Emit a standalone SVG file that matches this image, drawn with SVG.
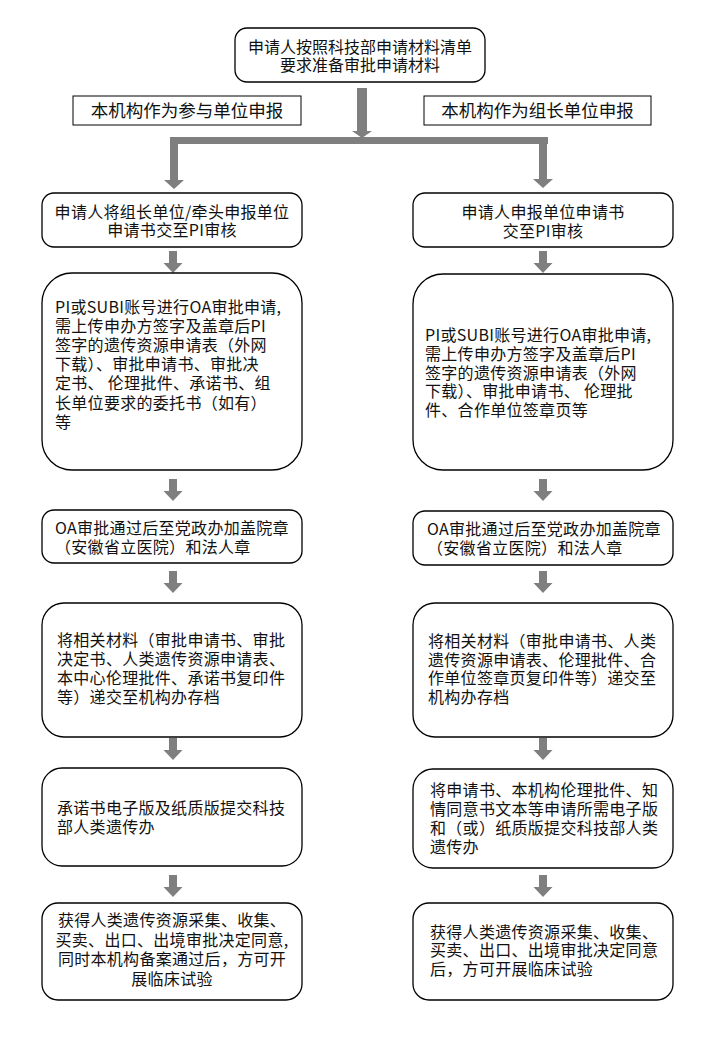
<svg xmlns="http://www.w3.org/2000/svg" width="720" height="1039" viewBox="0 0 720 1039">
<style>
.box{fill:#fff;stroke:#000;stroke-width:1.3}
.lbl{fill:#fff;stroke:#000;stroke-width:1}
text{font-family:"Microsoft YaHei","Noto Sans CJK SC","Noto Sans",sans-serif;font-size:16px;fill:#111;letter-spacing:0.3px}
.c{text-anchor:middle}
.big{font-size:17.5px;letter-spacing:0}
.top{letter-spacing:0}
.arr{fill:#7f7f7f}
</style>
<defs>
<path id="a" d="M-4,0 H4 V12 H9.5 L0,22 L-9.5,12 H-4 Z"/>
</defs>
<rect width="720" height="1039" fill="#fff"/>
<g id="connectors" class="arr">
<path d="M357,88 H367 V131 H372 L362,138 L352,131 H357 Z"/>
<rect x="170" y="137" width="378" height="7"/>
<path d="M170,137 H178 V180 H184 L174,189 L164,180 H170 Z"/>
<path d="M539,137 H547 V179 H553 L543,188 L533,179 H539 Z"/>
<use href="#a" x="173" y="251"/>
<use href="#a" x="173" y="479"/>
<use href="#a" x="173" y="571"/>
<use href="#a" x="173" y="738"/>
<use href="#a" x="173" y="875"/>
<use href="#a" x="543" y="251"/>
<use href="#a" x="543" y="479"/>
<use href="#a" x="543" y="571"/>
<use href="#a" x="543" y="738"/>
<use href="#a" x="543" y="875"/>
</g>
<g id="start">
<rect class="box" x="235" y="28" width="250" height="54" rx="12"/>
<text class="c top" x="360" y="52.5">申请人按照科技部申请材料清单<tspan x="360" dy="18.5">要求准备审批申请材料</tspan></text>
</g>
<g id="label-left">
<rect class="lbl" x="73" y="96" width="228" height="29"/>
<text class="c big" x="187" y="117">本机构作为参与单位申报</text>
</g>
<g id="label-right">
<rect class="lbl" x="424" y="96" width="227" height="29"/>
<text class="c big" x="537.5" y="117">本机构作为组长单位申报</text>
</g>
<g id="L1">
<rect class="box" x="42" y="193" width="260" height="54" rx="12"/>
<text class="c" x="172" y="217.5">申请人将组长单位/牵头申报单位<tspan x="172" dy="18.5">申请书交至PI审核</tspan></text>
</g>
<g id="L2">
<rect class="box" x="42" y="273" width="260" height="197" rx="30"/>
<text x="55" y="312.5">PI或SUBI账号进行OA审批申请,<tspan x="55" dy="19.2">需上传申办方签字及盖章后PI</tspan><tspan x="55" dy="19.2">签字的遗传资源申请表（外网</tspan><tspan x="55" dy="19.2">下载）、审批申请书、审批决</tspan><tspan x="55" dy="19.2">定书、 伦理批件、承诺书、组</tspan><tspan x="55" dy="19.2">长单位要求的委托书（如有）</tspan><tspan x="55" dy="19.2">等</tspan></text>
</g>
<g id="L3">
<rect class="box" x="42" y="510" width="260" height="53" rx="12"/>
<text x="55" y="534">OA审批通过后至党政办加盖院章<tspan x="55" dy="19">（安徽省立医院）和法人章</tspan></text>
</g>
<g id="L4">
<rect class="box" x="42" y="603" width="260" height="134" rx="22"/>
<text x="57" y="646">将相关材料（审批申请书、审批<tspan x="57" dy="19">决定书、人类遗传资源申请表、</tspan><tspan x="57" dy="19">本中心伦理批件、承诺书复印件</tspan><tspan x="57" dy="19">等）递交至机构办存档</tspan></text>
</g>
<g id="L5">
<rect class="box" x="42" y="768" width="260" height="98" rx="20"/>
<text x="57" y="814">承诺书电子版及纸质版提交科技<tspan x="57" dy="19">部人类遗传办</tspan></text>
</g>
<g id="L6">
<rect class="box" x="42" y="903" width="260" height="97" rx="16"/>
<text class="c" x="172" y="926">获得人类遗传资源采集、收集、<tspan x="172" dy="19.5">买卖、出口、出境审批决定同意,</tspan><tspan x="172" dy="19.5">同时本机构备案通过后，方可开</tspan><tspan x="172" dy="19.5">展临床试验</tspan></text>
</g>
<g id="R1">
<rect class="box" x="413" y="193" width="260" height="54" rx="12"/>
<text class="c" x="543" y="217.5">申请人申报单位申请书<tspan x="543" dy="19">交至PI审核</tspan></text>
</g>
<g id="R2">
<rect class="box" x="413" y="274" width="260" height="196" rx="30"/>
<text x="425" y="341">PI或SUBI账号进行OA审批申请,<tspan x="425" dy="18.8">需上传申办方签字及盖章后PI</tspan><tspan x="425" dy="18.8">签字的遗传资源申请表（外网</tspan><tspan x="425" dy="18.8">下载）、审批申请书、 伦理批</tspan><tspan x="425" dy="18.8">件、合作单位签章页等</tspan></text>
</g>
<g id="R3">
<rect class="box" x="413" y="511" width="260" height="54" rx="12"/>
<text x="427" y="535">OA审批通过后至党政办加盖院章<tspan x="427" dy="19">（安徽省立医院）和法人章</tspan></text>
</g>
<g id="R4">
<rect class="box" x="413" y="603" width="260" height="134" rx="22"/>
<text x="428" y="647">将相关材料（审批申请书、人类<tspan x="428" dy="18.7">遗传资源申请表、伦理批件、合</tspan><tspan x="428" dy="18.7">作单位签章页复印件等）递交至</tspan><tspan x="428" dy="18.7">机构办存档</tspan></text>
</g>
<g id="R5">
<rect class="box" x="413" y="769" width="260" height="99" rx="20"/>
<text x="430" y="796">将申请书、本机构伦理批件、知<tspan x="430" dy="19">情同意书文本等申请所需电子版</tspan><tspan x="430" dy="19">和（或）纸质版提交科技部人类</tspan><tspan x="430" dy="19">遗传办</tspan></text>
</g>
<g id="R6">
<rect class="box" x="413" y="903" width="260" height="97" rx="16"/>
<text x="430" y="937.5">获得人类遗传资源采集、收集、<tspan x="430" dy="18.8">买卖、出口、出境审批决定同意</tspan><tspan x="430" dy="18.8">后，方可开展临床试验</tspan></text>
</g>
</svg>
